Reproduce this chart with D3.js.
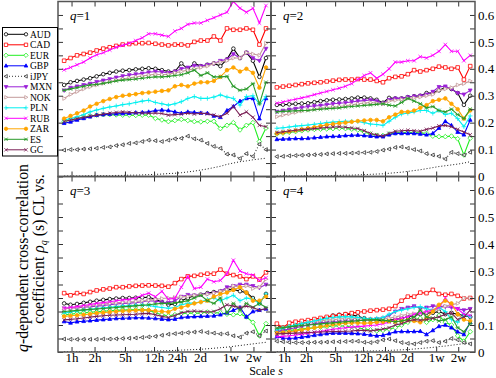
<!DOCTYPE html>
<html>
<head>
<meta charset="utf-8">
<title>q-dependent cross-correlation</title>
<script src="https://d3js.org/d3.v7.min.js"></script>
<style>
  body { margin: 0; background: #fff; }
  text { font-family: "Liberation Serif", "Times New Roman", serif; fill: #000; }
</style>
</head>
<body>
<svg width="496" height="378"></svg>
<script>
// scale s, in hours (1w = 5 trading days)
var scales = [0.8, 0.97, 1.18, 1.44, 1.75, 2.13, 2.6, 3.16, 3.84, 4.67, 5.69, 6.92, 8.42, 10.2, 12.5, 15.2,
              18.5, 22.5, 27.3, 33.2, 40.4, 49.2, 59.9, 72.8, 88.6, 108, 131, 160, 194, 236, 287, 350];
var tickHours = [1, 2, 5, 12, 24, 48, 120, 240];
var tickLabels = ["1h", "2h", "5h", "12h", "24h", "2d", "1w", "2w"];
var yMajor = [0, 0.1, 0.2, 0.3, 0.4, 0.5, 0.6];
var yMinor = [0.05, 0.15, 0.25, 0.35, 0.45, 0.55];
var names = ["AUD", "CAD", "EUR", "GBP", "iJPY", "MXN", "NOK", "PLN", "RUB", "ZAR", "ES", "GC"];
var qNames = ["1", "2", "3", "4"];

// every series: [q=1, q=2, q=3, q=4]
var AUD = [
  [0.34,0.35,0.355,0.36,0.365,0.372,0.38,0.385,0.39,0.393,0.395,0.398,0.40,0.402,0.40,0.395,0.39,0.39,0.42,0.40,0.42,0.41,0.415,0.42,0.41,0.435,0.475,0.44,0.46,0.43,0.37,0.44],
  [0.266,0.267,0.268,0.27,0.271,0.272,0.276,0.28,0.283,0.285,0.286,0.288,0.29,0.293,0.293,0.29,0.285,0.274,0.292,0.29,0.29,0.295,0.298,0.30,0.31,0.31,0.32,0.33,0.325,0.31,0.266,0.30],
  [0.18,0.175,0.178,0.182,0.186,0.19,0.193,0.196,0.198,0.2,0.2,0.201,0.202,0.203,0.195,0.185,0.175,0.178,0.19,0.2,0.208,0.212,0.218,0.222,0.225,0.23,0.232,0.225,0.22,0.2,0.18,0.215],
  [0.095,0.09,0.095,0.1,0.105,0.11,0.115,0.12,0.128,0.135,0.138,0.14,0.138,0.132,0.125,0.12,0.118,0.115,0.118,0.12,0.125,0.13,0.135,0.14,0.145,0.145,0.15,0.14,0.145,0.14,0.135,0.13]
];
var CAD = [
  [0.43,0.44,0.45,0.455,0.46,0.468,0.475,0.48,0.485,0.49,0.492,0.495,0.495,0.496,0.493,0.49,0.487,0.49,0.49,0.487,0.5,0.505,0.505,0.52,0.505,0.55,0.545,0.545,0.55,0.545,0.49,0.55],
  [0.331,0.334,0.337,0.34,0.343,0.346,0.348,0.35,0.353,0.356,0.359,0.36,0.36,0.362,0.36,0.36,0.355,0.35,0.365,0.37,0.372,0.38,0.395,0.39,0.395,0.40,0.408,0.405,0.40,0.405,0.36,0.41],
  [0.218,0.21,0.218,0.215,0.222,0.228,0.232,0.235,0.24,0.24,0.243,0.245,0.246,0.247,0.246,0.245,0.242,0.255,0.27,0.28,0.282,0.286,0.29,0.29,0.305,0.29,0.285,0.28,0.27,0.28,0.268,0.295],
  [0.105,0.09,0.108,0.112,0.115,0.118,0.122,0.126,0.13,0.133,0.136,0.14,0.144,0.147,0.15,0.153,0.155,0.157,0.16,0.17,0.19,0.205,0.205,0.22,0.218,0.23,0.215,0.212,0.215,0.208,0.198,0.2]
];
var EUR = [
  [0.204,0.21,0.215,0.22,0.225,0.228,0.23,0.23,0.229,0.228,0.228,0.227,0.228,0.228,0.216,0.21,0.204,0.208,0.212,0.208,0.204,0.203,0.205,0.205,0.178,0.19,0.2,0.173,0.19,0.2,0.13,0.18],
  [0.158,0.161,0.164,0.167,0.17,0.173,0.175,0.176,0.177,0.178,0.179,0.178,0.176,0.173,0.165,0.158,0.153,0.152,0.158,0.162,0.163,0.164,0.163,0.162,0.16,0.15,0.148,0.148,0.15,0.14,0.08,0.142],
  [0.138,0.14,0.143,0.145,0.147,0.149,0.151,0.153,0.154,0.155,0.156,0.157,0.157,0.155,0.145,0.138,0.134,0.138,0.142,0.145,0.143,0.145,0.148,0.146,0.145,0.14,0.138,0.142,0.13,0.11,0.06,0.105],
  [0.076,0.078,0.08,0.082,0.085,0.088,0.09,0.092,0.094,0.096,0.097,0.096,0.094,0.09,0.085,0.082,0.078,0.08,0.085,0.09,0.1,0.11,0.12,0.125,0.11,0.12,0.135,0.11,0.1,0.06,0.04,0.075]
];
var GBP = [
  [0.198,0.203,0.21,0.216,0.222,0.228,0.23,0.232,0.233,0.234,0.235,0.237,0.238,0.24,0.245,0.247,0.245,0.24,0.235,0.24,0.238,0.236,0.235,0.225,0.22,0.245,0.26,0.28,0.29,0.29,0.215,0.29],
  [0.138,0.139,0.14,0.141,0.141,0.142,0.144,0.146,0.148,0.149,0.15,0.152,0.153,0.154,0.152,0.15,0.148,0.148,0.155,0.16,0.16,0.16,0.16,0.158,0.155,0.16,0.18,0.205,0.19,0.165,0.155,0.21],
  [0.113,0.108,0.112,0.114,0.116,0.118,0.12,0.122,0.124,0.125,0.126,0.127,0.127,0.126,0.124,0.122,0.12,0.122,0.128,0.13,0.131,0.132,0.133,0.134,0.138,0.145,0.155,0.165,0.13,0.15,0.155,0.16],
  [0.057,0.052,0.05,0.052,0.055,0.058,0.062,0.065,0.068,0.07,0.07,0.07,0.069,0.068,0.066,0.063,0.06,0.062,0.068,0.075,0.076,0.076,0.076,0.077,0.065,0.08,0.095,0.1,0.09,0.075,0.065,0.11]
];
var iJPY = [
  [0.098,0.1,0.1,0.102,0.103,0.105,0.108,0.11,0.115,0.118,0.123,0.125,0.13,0.135,0.133,0.13,0.135,0.14,0.142,0.15,0.14,0.135,0.123,0.112,0.105,0.083,0.08,0.067,0.085,0.075,0.12,0.1],
  [0.074,0.075,0.077,0.078,0.079,0.08,0.081,0.082,0.084,0.085,0.086,0.086,0.087,0.088,0.089,0.09,0.093,0.098,0.102,0.108,0.11,0.105,0.1,0.095,0.085,0.08,0.075,0.065,0.09,0.085,0.08,0.09],
  [0.048,0.047,0.047,0.047,0.047,0.047,0.048,0.048,0.049,0.05,0.051,0.052,0.054,0.056,0.058,0.062,0.066,0.068,0.07,0.072,0.074,0.076,0.072,0.07,0.067,0.068,0.06,0.055,0.07,0.075,0.06,0.078],
  [0.04,0.038,0.036,0.035,0.035,0.035,0.036,0.036,0.037,0.038,0.038,0.039,0.04,0.04,0.036,0.035,0.038,0.045,0.048,0.042,0.035,0.032,0.03,0.035,0.04,0.042,0.035,0.04,0.05,0.045,0.035,0.03]
];
var MXN = [
  [0.32,0.33,0.335,0.34,0.345,0.352,0.357,0.362,0.368,0.373,0.377,0.38,0.383,0.387,0.39,0.388,0.385,0.39,0.40,0.405,0.412,0.41,0.415,0.42,0.43,0.435,0.455,0.44,0.46,0.44,0.43,0.475],
  [0.241,0.245,0.249,0.252,0.256,0.26,0.262,0.264,0.267,0.27,0.272,0.274,0.277,0.28,0.282,0.284,0.28,0.272,0.285,0.29,0.29,0.295,0.298,0.30,0.305,0.315,0.333,0.335,0.325,0.31,0.305,0.32],
  [0.162,0.163,0.164,0.166,0.168,0.17,0.172,0.175,0.178,0.18,0.181,0.183,0.186,0.19,0.188,0.185,0.182,0.19,0.205,0.212,0.21,0.212,0.215,0.218,0.225,0.24,0.245,0.25,0.25,0.245,0.238,0.25],
  [0.076,0.08,0.085,0.09,0.095,0.1,0.105,0.108,0.11,0.112,0.113,0.115,0.115,0.116,0.118,0.12,0.122,0.125,0.135,0.15,0.16,0.165,0.17,0.162,0.165,0.17,0.17,0.168,0.165,0.16,0.155,0.16]
];
var NOK = [
  [0.29,0.305,0.315,0.325,0.333,0.34,0.346,0.352,0.358,0.362,0.366,0.37,0.373,0.377,0.38,0.378,0.38,0.385,0.39,0.395,0.40,0.405,0.41,0.42,0.425,0.43,0.44,0.44,0.46,0.455,0.45,0.495],
  [0.222,0.228,0.233,0.238,0.243,0.247,0.25,0.253,0.256,0.258,0.26,0.263,0.266,0.27,0.273,0.275,0.272,0.27,0.28,0.283,0.286,0.29,0.292,0.295,0.3,0.305,0.32,0.325,0.33,0.34,0.345,0.355],
  [0.16,0.163,0.166,0.169,0.172,0.175,0.178,0.18,0.182,0.184,0.185,0.187,0.19,0.192,0.195,0.198,0.2,0.202,0.204,0.206,0.21,0.212,0.214,0.218,0.225,0.23,0.245,0.24,0.245,0.235,0.24,0.27],
  [0.088,0.09,0.095,0.1,0.105,0.11,0.113,0.116,0.118,0.12,0.122,0.124,0.125,0.124,0.122,0.12,0.12,0.122,0.125,0.13,0.135,0.14,0.142,0.145,0.148,0.15,0.16,0.17,0.175,0.18,0.2,0.2]
];
var PLN = [
  [0.21,0.215,0.222,0.23,0.24,0.247,0.253,0.258,0.262,0.267,0.27,0.275,0.28,0.283,0.275,0.27,0.265,0.27,0.278,0.29,0.297,0.29,0.29,0.295,0.303,0.295,0.29,0.265,0.297,0.30,0.27,0.297],
  [0.179,0.181,0.184,0.187,0.189,0.191,0.194,0.197,0.2,0.202,0.204,0.205,0.205,0.204,0.2,0.195,0.193,0.19,0.205,0.22,0.232,0.235,0.24,0.245,0.245,0.235,0.245,0.23,0.235,0.215,0.185,0.225],
  [0.144,0.148,0.152,0.155,0.158,0.161,0.164,0.166,0.168,0.17,0.172,0.173,0.174,0.172,0.168,0.165,0.162,0.165,0.175,0.18,0.182,0.185,0.195,0.2,0.19,0.2,0.21,0.19,0.2,0.195,0.18,0.215],
  [0.082,0.088,0.095,0.1,0.105,0.11,0.115,0.12,0.125,0.128,0.13,0.131,0.13,0.128,0.125,0.122,0.125,0.128,0.14,0.15,0.155,0.16,0.165,0.168,0.16,0.155,0.165,0.15,0.12,0.11,0.14,0.13]
];
var RUB = [
  [0.396,0.405,0.415,0.425,0.44,0.452,0.46,0.47,0.48,0.487,0.495,0.505,0.515,0.53,0.53,0.525,0.52,0.54,0.55,0.565,0.57,0.57,0.58,0.59,0.60,0.61,0.65,0.625,0.61,0.625,0.57,0.635],
  [0.272,0.277,0.282,0.287,0.292,0.297,0.304,0.31,0.316,0.322,0.328,0.335,0.345,0.36,0.375,0.385,0.365,0.38,0.40,0.425,0.425,0.43,0.43,0.445,0.44,0.45,0.465,0.49,0.465,0.465,0.43,0.45],
  [0.162,0.165,0.168,0.172,0.176,0.18,0.183,0.186,0.19,0.193,0.195,0.2,0.21,0.218,0.205,0.225,0.195,0.2,0.24,0.28,0.235,0.24,0.27,0.26,0.265,0.29,0.34,0.3,0.29,0.285,0.265,0.275],
  [0.057,0.058,0.06,0.063,0.066,0.07,0.073,0.076,0.08,0.084,0.087,0.09,0.092,0.094,0.096,0.098,0.1,0.105,0.11,0.12,0.125,0.13,0.14,0.145,0.15,0.155,0.165,0.2,0.17,0.16,0.14,0.135]
];
var ZAR = [
  [0.215,0.225,0.235,0.245,0.26,0.27,0.28,0.288,0.295,0.30,0.303,0.306,0.31,0.312,0.315,0.318,0.32,0.335,0.34,0.335,0.345,0.35,0.35,0.355,0.37,0.395,0.405,0.39,0.40,0.385,0.33,0.405],
  [0.16,0.163,0.167,0.171,0.175,0.179,0.183,0.187,0.192,0.195,0.198,0.2,0.203,0.206,0.208,0.21,0.21,0.205,0.22,0.23,0.24,0.24,0.245,0.255,0.265,0.28,0.285,0.29,0.27,0.25,0.215,0.245],
  [0.132,0.134,0.136,0.138,0.141,0.144,0.146,0.148,0.15,0.152,0.153,0.154,0.155,0.155,0.152,0.15,0.148,0.16,0.165,0.172,0.18,0.185,0.19,0.205,0.215,0.22,0.23,0.24,0.22,0.19,0.19,0.205],
  [0.07,0.072,0.075,0.078,0.082,0.086,0.09,0.094,0.098,0.102,0.105,0.107,0.108,0.108,0.107,0.108,0.11,0.112,0.114,0.112,0.115,0.118,0.115,0.11,0.125,0.15,0.175,0.19,0.18,0.14,0.12,0.115]
];
var ES = [
  [0.32,0.325,0.33,0.335,0.34,0.342,0.346,0.35,0.355,0.358,0.36,0.362,0.365,0.368,0.37,0.37,0.372,0.375,0.378,0.385,0.395,0.375,0.385,0.37,0.37,0.372,0.335,0.32,0.325,0.345,0.27,0.35],
  [0.24,0.242,0.243,0.244,0.245,0.245,0.248,0.25,0.252,0.253,0.255,0.258,0.26,0.262,0.264,0.266,0.268,0.27,0.265,0.262,0.275,0.29,0.28,0.27,0.255,0.26,0.245,0.24,0.25,0.23,0.215,0.25],
  [0.15,0.152,0.154,0.156,0.158,0.159,0.161,0.163,0.165,0.167,0.169,0.171,0.173,0.175,0.178,0.18,0.18,0.182,0.185,0.19,0.2,0.21,0.19,0.18,0.2,0.145,0.18,0.155,0.18,0.165,0.18,0.165],
  [0.088,0.09,0.093,0.096,0.098,0.1,0.102,0.104,0.106,0.108,0.11,0.112,0.114,0.116,0.118,0.119,0.12,0.118,0.115,0.112,0.115,0.12,0.13,0.155,0.13,0.125,0.115,0.12,0.13,0.09,0.075,0.105]
];
var GC = [
  [0.204,0.21,0.215,0.22,0.224,0.228,0.232,0.235,0.238,0.24,0.238,0.237,0.236,0.235,0.236,0.234,0.228,0.23,0.232,0.235,0.232,0.235,0.233,0.228,0.222,0.235,0.26,0.228,0.24,0.22,0.19,0.185],
  [0.163,0.166,0.169,0.172,0.174,0.176,0.178,0.18,0.182,0.184,0.185,0.183,0.18,0.178,0.17,0.16,0.155,0.15,0.16,0.168,0.17,0.172,0.17,0.168,0.175,0.18,0.188,0.19,0.185,0.175,0.165,0.155],
  [0.119,0.121,0.123,0.126,0.129,0.132,0.134,0.136,0.137,0.138,0.139,0.14,0.142,0.143,0.138,0.132,0.128,0.135,0.145,0.15,0.152,0.15,0.148,0.15,0.16,0.175,0.17,0.165,0.17,0.165,0.155,0.16],
  [0.067,0.068,0.069,0.07,0.071,0.072,0.073,0.074,0.075,0.076,0.076,0.077,0.078,0.08,0.08,0.078,0.082,0.085,0.09,0.1,0.105,0.115,0.12,0.118,0.12,0.125,0.13,0.14,0.145,0.12,0.13,0.155]
];
// dotted reference curve (no symbols)
var shuffled = [
  [0.002,0.002,0.002,0.002,0.003,0.003,0.003,0.003,0.004,0.004,0.005,0.005,0.006,0.007,0.008,0.009,0.011,0.012,0.014,0.017,0.02,0.024,0.028,0.033,0.038,0.045,0.05,0.055,0.058,0.062,0.065,0.068],
  [0.002,0.002,0.002,0.002,0.002,0.003,0.003,0.003,0.003,0.004,0.004,0.005,0.005,0.006,0.007,0.008,0.009,0.01,0.012,0.014,0.016,0.019,0.022,0.025,0.029,0.033,0.037,0.04,0.043,0.046,0.05,0.055],
  [0.001,0.001,0.001,0.001,0.001,0.001,0.002,0.002,0.002,0.002,0.002,0.003,0.003,0.003,0.004,0.004,0.005,0.006,0.007,0.008,0.009,0.01,0.012,0.014,0.016,0.018,0.021,0.024,0.027,0.03,0.033,0.036],
  [0.001,0.001,0.001,0.001,0.001,0.001,0.001,0.002,0.002,0.002,0.002,0.002,0.003,0.003,0.003,0.004,0.004,0.005,0.006,0.007,0.008,0.009,0.011,0.013,0.015,0.017,0.02,0.022,0.025,0.028,0.031,0.034]
];

var allSeries = [AUD, CAD, EUR, GBP, iJPY, MXN, NOK, PLN, RUB, ZAR, ES, GC];
var colors = ["#000000", "#ff0000", "#22ee22", "#0000ff", "#333333", "#9a20d8",
              "#c49a9a", "#00f0f0", "#ff00ff", "#ffa500", "#2a9a2a", "#7a1f55"];
var symbols = ["circle", "square", "diamond", "up", "left", "down", "right", "plus", "x", "circle", "star", "x"];
var filled = [false, false, false, true, false, true, false, false, false, true, false, false];

var svg = d3.select("svg");

var panels = [
  { x0: 58, x1: 271, y0: 1.5, y1: 176.5 },
  { x0: 271, x1: 475, y0: 1.5, y1: 176.5 },
  { x0: 58, x1: 271, y0: 176.5, y1: 352 },
  { x0: 271, x1: 475, y0: 176.5, y1: 352 }
];

function symbolPath(type, r) {
  var tri = "M0," + (-r * 1.15) + "L" + (r * 1.05) + "," + (r * 0.75) + "L" + (-r * 1.05) + "," + (r * 0.75) + "Z";
  if (type == "circle") return d3.arc()({ innerRadius: 0, outerRadius: r, startAngle: 0, endAngle: 2 * Math.PI });
  if (type == "square") return "M" + (-r) + "," + (-r) + "h" + (2 * r) + "v" + (2 * r) + "h" + (-2 * r) + "Z";
  if (type == "diamond") return "M0," + (-r * 1.3) + "L" + (r * 1.3) + ",0L0," + (r * 1.3) + "L" + (-r * 1.3) + ",0Z";
  if (type == "plus") return "M" + (-r * 1.3) + ",0H" + (r * 1.3) + "M0," + (-r * 1.3) + "V" + (r * 1.3);
  if (type == "x") return "M" + (-r) + "," + (-r) + "L" + r + "," + r + "M" + (-r) + "," + r + "L" + r + "," + (-r);
  if (type == "star") return "M" + (-r * 1.2) + ",0H" + (r * 1.2) + "M" + (-r) + "," + (-r) + "L" + r + "," + r + "M" + (-r) + "," + r + "L" + r + "," + (-r);
  return tri;
}
function symbolRotate(type) {
  if (type == "down") return 180;
  if (type == "left") return -90;
  if (type == "right") return 90;
  return 0;
}

function drawMarker(sel, k, cx, cy, r) {
  var t = symbols[k];
  sel.append("path")
    .attr("d", symbolPath(t, r))
    .attr("transform", "translate(" + cx + "," + cy + ") rotate(" + symbolRotate(t) + ")")
    .attr("fill", filled[k] ? colors[k] : (t == "plus" || t == "x" || t == "star" ? "none" : "#fff"))
    .attr("stroke", colors[k])
    .attr("stroke-width", 0.8);
}

panels.forEach(function (p, q) {
  var x = d3.scaleLog().domain([0.665, 407]).range([p.x0, p.x1]);
  var y = d3.scaleLinear().domain([0, 0.65]).range([p.y1, p.y0]);
  var g = svg.append("g");

  g.append("clipPath").attr("id", "clip" + q)
    .append("rect").attr("x", p.x0).attr("y", p.y0).attr("width", p.x1 - p.x0).attr("height", p.y1 - p.y0);
  var plot = g.append("g").attr("clip-path", "url(#clip" + q + ")");

  var line = d3.line()
    .x(function (d, i) { return x(scales[i]); })
    .y(function (d) { return y(d); });

  plot.append("path")
    .attr("d", line(shuffled[q]))
    .attr("fill", "none")
    .attr("stroke", "#000")
    .attr("stroke-width", 0.9)
    .attr("stroke-dasharray", "1,2");

  allSeries.forEach(function (s, k) {
    plot.append("path")
      .attr("d", line(s[q]))
      .attr("fill", "none")
      .attr("stroke", colors[k])
      .attr("stroke-width", 1.1)
      .attr("stroke-dasharray", names[k] == "iJPY" ? "1,2" : null);
    s[q].forEach(function (v, i) {
      drawMarker(plot, k, x(scales[i]), y(v), 1.8);
    });
  });

  // axes: ticks pointing into the panel on all four sides
  g.append("g").attr("transform", "translate(0," + p.y1 + ")")
    .call(d3.axisBottom(x).tickValues(tickHours).tickSize(-5).tickPadding(1)
      .tickFormat(function (d, i) { return q >= 2 ? tickLabels[i] : ""; }));
  g.append("g").attr("transform", "translate(0," + p.y0 + ")")
    .call(d3.axisTop(x).tickValues(tickHours).tickSize(-5).tickFormat(""));
  g.append("g").attr("transform", "translate(" + p.x0 + ",0)")
    .call(d3.axisLeft(y).tickValues(yMajor.concat(yMinor)).tickSize(-5).tickFormat(""));
  g.append("g").attr("transform", "translate(" + p.x1 + ",0)")
    .call(d3.axisRight(y).tickValues(yMinor).tickSize(-5).tickFormat(""));
  g.append("g").attr("transform", "translate(" + p.x1 + ",0)")
    .call(d3.axisRight(y).tickValues(yMajor).tickSize(-5).tickPadding(3)
      .tickFormat(function (d) { return (q == 1 || q == 3) ? (d == 0 ? "0" : d3.format(".1f")(d)) : ""; }));

  g.selectAll(".domain").remove();
  g.selectAll(".tick line").attr("stroke", "#333").attr("stroke-width", 1);
  g.selectAll(".tick text").attr("font-size", 13).attr("fill", "#000");

  g.append("rect")
    .attr("x", p.x0).attr("y", p.y0)
    .attr("width", p.x1 - p.x0).attr("height", p.y1 - p.y0)
    .attr("fill", "none").attr("stroke", "#555").attr("stroke-width", 1.5);

  var lab = g.append("text")
    .attr("x", p.x0 + 12).attr("y", p.y0 + 18)
    .attr("font-size", 13);
  lab.append("tspan").attr("font-style", "italic").text("q");
  lab.append("tspan").text("=" + qNames[q]);
});

// legend
var leg = svg.append("g");
leg.append("rect").attr("x", 2.5).attr("y", 27.5).attr("width", 55).attr("height", 128.5)
  .attr("fill", "#fff").attr("stroke", "#000").attr("stroke-width", 1);
names.forEach(function (n, k) {
  var ly = 34.3 + k * 10.5;
  leg.append("line").attr("x1", 6).attr("x2", 26).attr("y1", ly).attr("y2", ly)
    .attr("stroke", colors[k]).attr("stroke-width", 1)
    .attr("stroke-dasharray", n == "iJPY" ? "1,2" : null);
  drawMarker(leg, k, 6, ly, 1.7);
  drawMarker(leg, k, 26, ly, 1.7);
  leg.append("text").attr("x", 30).attr("y", ly + 3.3).attr("font-size", 9.5).text(n);
});

// axis titles
svg.append("text")
  .attr("x", 266).attr("y", 375).attr("text-anchor", "middle").attr("font-size", 12)
  .call(function (t) {
    t.append("tspan").text("Scale ");
    t.append("tspan").attr("font-style", "italic").text("s");
  });

var yl1 = svg.append("text")
  .attr("transform", "translate(28,258) rotate(-90)")
  .attr("text-anchor", "middle").attr("font-size", 15);
yl1.append("tspan").attr("font-style", "italic").text("q");
yl1.append("tspan").text("-dependent cross-correlation");

var yl2 = svg.append("text")
  .attr("transform", "translate(44,249) rotate(-90)")
  .attr("text-anchor", "middle").attr("font-size", 15);
yl2.append("tspan").text("coefficient ");
yl2.append("tspan").attr("font-style", "italic").text("ρ");
yl2.append("tspan").attr("font-style", "italic").attr("font-size", 10).attr("dy", 3).text("q");
yl2.append("tspan").attr("dy", -3).text(" (s) CL vs.");

// size the title so that its first line spans the height seen in the figure
var len1 = yl1.node().getComputedTextLength();
var fs = Math.min(17, 15 * 188 / len1);
yl1.attr("font-size", fs);
yl2.attr("font-size", fs);
</script>
</body>
</html>
